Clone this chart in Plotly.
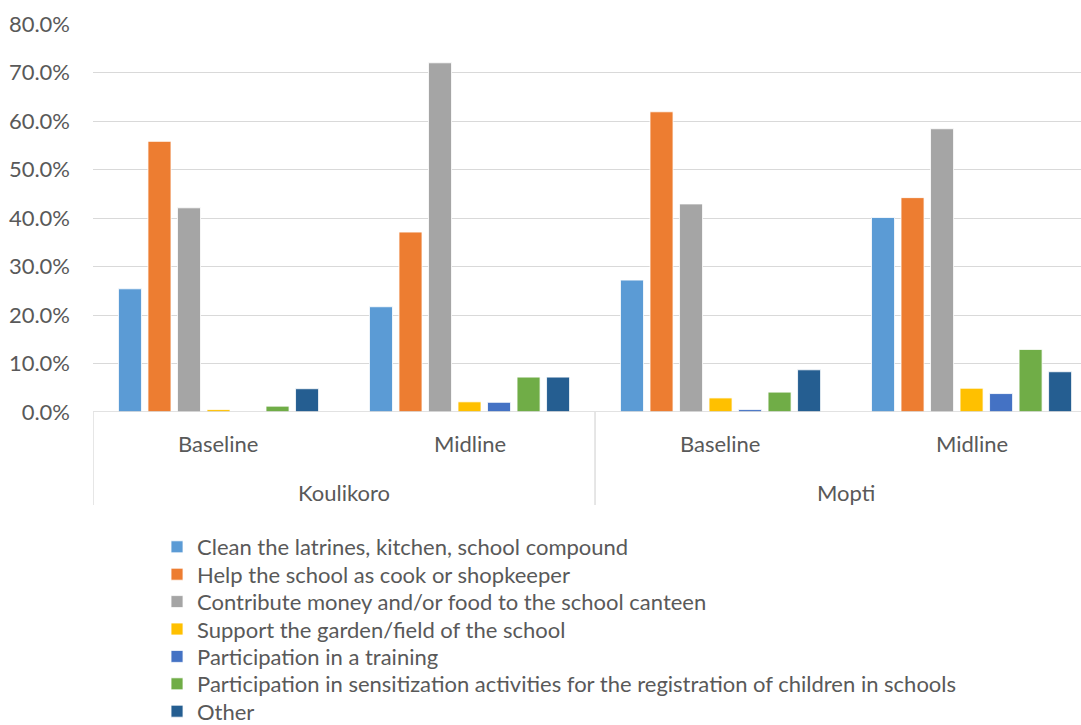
import plotly.graph_objects as go

# Survey periods per region, and the region each period belongs to
periods = ["Baseline", "Midline", "Baseline", "Midline"]
regions = ["Koulikoro", "Mopti"]

series_names = [
    "Clean the latrines, kitchen, school compound",
    "Help the school as cook or shopkeeper",
    "Contribute money and/or food to the school canteen",
    "Support the garden/field of the school",
    "Participation in a training",
    "Participation in sensitization activities for the registration of children in schools",
    "Other",
]

# Share of respondents (fraction) per series, ordered Koulikoro B/M, Mopti B/M
clean_latrines = [0.254, 0.217, 0.272, 0.401]
cook_shopkeeper = [0.558, 0.371, 0.619, 0.442]
money_food = [0.421, 0.720, 0.429, 0.584]
garden_field = [0.005, 0.021, 0.029, 0.049]
training = [0.0, 0.020, 0.005, 0.038]
sensitization = [0.012, 0.072, 0.041, 0.129]
other = [0.048, 0.072, 0.087, 0.083]

series_values = [clean_latrines, cook_shopkeeper, money_food, garden_field,
                 training, sensitization, other]
colors = ["#5B9BD5", "#ED7D31", "#A5A5A5", "#FFC000", "#4472C4", "#70AD47", "#255E91"]

FONT = "Lato"
FSIZE = 22
TEXT = "#595959"
GRID = "#D9D9D9"

PLOT_TOP, PLOT_BOTTOM = 24, 412          # pixel rows of the plotting area
PLOT_H = PLOT_BOTTOM - PLOT_TOP


def paper_y(pix):
    """Convert a pixel row of the page into paper coordinates."""
    return (PLOT_BOTTOM - pix) / PLOT_H


x_pos = list(range(len(periods)))

fig = go.Figure()
legend_layout = {}
for i, (name, vals, col) in enumerate(zip(series_names, series_values, colors)):
    key = "legend" if i == 0 else f"legend{i + 1}"
    fig.add_trace(go.Bar(
        x=x_pos, y=vals, name=name, legend=key,
        marker=dict(color=col, line=dict(color="white", width=0.8)),
    ))
    # one single-entry legend per series so the rows sit at a fixed pitch
    legend_layout[key] = dict(
        x=0.0648, y=paper_y(547 + 27.4 * i), xanchor="left", yanchor="middle",
        font=dict(family=FONT, size=FSIZE, color=TEXT),
        bgcolor="rgba(0,0,0,0)", itemwidth=30,
    )

# Category labels of the two-level axis
annotations = []
for xi, p in zip(x_pos, periods):
    annotations.append(dict(x=xi, y=paper_y(443), xref="x", yref="paper", text=p,
                            xanchor="center", yanchor="middle", showarrow=False,
                            font=dict(family=FONT, size=FSIZE, color=TEXT)))
for i, r in enumerate(regions):
    annotations.append(dict(x=2 * i + 0.5, y=paper_y(492), xref="x", yref="paper", text=r,
                            xanchor="center", yanchor="middle", showarrow=False,
                            font=dict(family=FONT, size=FSIZE, color=TEXT)))

# Axis line and region separators
shapes = [dict(type="line", xref="paper", yref="y", x0=0, x1=1, y0=0, y1=0,
               line=dict(color=GRID, width=1.3))]
for xs in [-0.5, 1.5, 3.5]:
    shapes.append(dict(type="line", xref="x", yref="paper", x0=xs, x1=xs,
                       y0=0, y1=paper_y(505), line=dict(color=GRID, width=1.3)))

fig.update_layout(
    width=1081, height=725,
    margin=dict(l=93, r=0, t=PLOT_TOP, b=725 - PLOT_BOTTOM, autoexpand=False),
    plot_bgcolor="white", paper_bgcolor="white",
    barmode="group", bargap=0.177, bargroupgap=0.22,
    font=dict(family=FONT, size=FSIZE, color=TEXT),
    showlegend=True,
    annotations=annotations,
    shapes=shapes,
    **legend_layout,
)
fig.update_xaxes(range=[-0.5, 3.436], showticklabels=False, showgrid=False,
                 zeroline=False, showline=False)
fig.update_yaxes(range=[0, 0.8], dtick=0.1, tickformat=".1%", showgrid=True,
                 gridcolor=GRID, gridwidth=1.3, zeroline=False, showline=False,
                 ticklabelstandoff=22, tickfont=dict(family=FONT, size=FSIZE, color=TEXT))

fig.write_html("out.html")
